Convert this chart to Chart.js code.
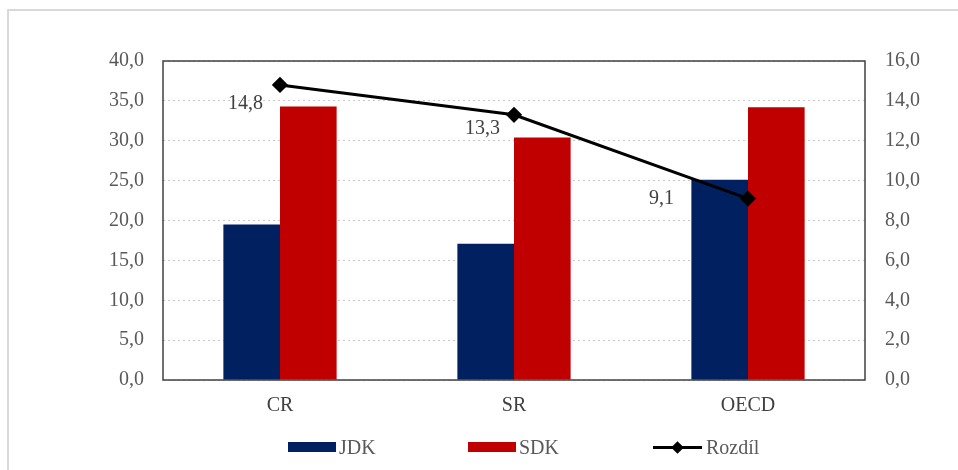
<!DOCTYPE html>
<html>
<head>
<meta charset="utf-8">
<script src="https://cdn.jsdelivr.net/npm/chart.js@4"></script>
<style>
  html, body { margin: 0; padding: 0; background: #fff; }
  #wrap { position: relative; width: 958px; height: 470px; overflow: hidden; }
  #frame { position: absolute; left: 7px; top: 9px; width: 1000px; height: 1000px; border: 2px solid #d9d9d9; box-sizing: border-box; }
  canvas { position: absolute; left: 0; top: 0; }
  #legend { position: absolute; top: 437px; left: 0; width: 958px; height: 20px; font-family: "Liberation Serif", serif; font-size: 20px; color: #595959; }
  .item { position: absolute; top: 0; height: 20px; line-height: 20px; }
  .box { position: absolute; top: 5px; width: 48px; height: 10px; }
  .txt { position: absolute; top: 0; white-space: nowrap; }
  .ln { position: absolute; top: 9px; width: 49px; height: 3px; background: #000; }
  .dm { position: absolute; top: 6px; width: 9px; height: 9px; background: #000; transform: rotate(45deg); }
</style>
</head>
<body>
<div id="wrap">
  <div id="frame"></div>
  <canvas id="c" width="958" height="470"></canvas>
  <div id="legend"></div>
</div>
<script>
const categories = ["CR", "SR", "OECD"];
const jdk = [19.5, 17.1, 25.1];
const sdk = [34.3, 30.4, 34.2];
const rozdil = [14.8, 13.3, 9.1];
const seriesNames = ["JDK", "SDK", "Rozdíl"];

const NAVY = "#002060", RED = "#C00000";
const FONT = "Liberation Serif";
const fmt = v => Number(v).toFixed(1).replace(".", ",");

const borderBox = {
  id: "borderBox",
  beforeDatasetsDraw(chart) {
    const a = chart.chartArea, ctx = chart.ctx;
    ctx.save();
    ctx.strokeStyle = "#404040";
    ctx.lineWidth = 1.5;
    ctx.strokeRect(a.left, a.top, a.right - a.left, a.bottom - a.top);
    ctx.restore();
  }
};

const lineLabels = {
  id: "lineLabels",
  afterDatasetsDraw(chart, args, opts) {
    const meta = chart.getDatasetMeta(2);
    const ctx = chart.ctx;
    ctx.save();
    ctx.font = '20px "' + FONT + '"';
    ctx.fillStyle = "#404040";
    ctx.textAlign = "right";
    ctx.textBaseline = "middle";
    meta.data.forEach((p, i) => {
      const o = opts.offsets[i];
      ctx.fillText(fmt(chart.data.datasets[2].data[i]), p.x + o[0], p.y + o[1]);
    });
    ctx.restore();
  }
};

const tickFont = { family: FONT, size: 20 };

const chart = new Chart(document.getElementById("c"), {
  data: {
    labels: categories,
    datasets: [
      { type: "bar", label: seriesNames[0], data: jdk, backgroundColor: NAVY, yAxisID: "y", order: 2,
        categoryPercentage: 0.484, barPercentage: 1.0 },
      { type: "bar", label: seriesNames[1], data: sdk, backgroundColor: RED, yAxisID: "y", order: 2,
        categoryPercentage: 0.484, barPercentage: 1.0 },
      { type: "line", label: seriesNames[2], data: rozdil, borderColor: "#000", backgroundColor: "#000",
        borderWidth: 3, pointStyle: "rectRot", pointRadius: 6, pointHoverRadius: 6, yAxisID: "y1", order: 1, tension: 0 }
    ]
  },
  options: {
    responsive: false,
    animation: false,
    devicePixelRatio: 1,
    layout: { padding: { top: 61, left: 0, right: 0, bottom: 0 } },
    plugins: {
      legend: { display: false },
      tooltip: { enabled: false },
      lineLabels: { offsets: [[-17, 19], [-14, 14], [-74, 0]] }
    },
    scales: {
      x: {
        grid: { display: false, drawTicks: false },
        border: { display: false },
        ticks: { color: "#404040", font: tickFont, padding: 14 },
        afterFit(s) { s.height = 90; }
      },
      y: {
        position: "left",
        min: 0, max: 40,
        grid: { color: "#c8c8c8", lineWidth: 1, drawTicks: false },
        border: { display: false, dash: [2, 3] },
        ticks: { stepSize: 5, color: "#595959", font: tickFont, padding: 19, callback: v => fmt(v) },
        afterFit(s) { s.width = 163; }
      },
      y1: {
        position: "right",
        min: 0, max: 16,
        grid: { display: false, drawTicks: false },
        border: { display: false },
        ticks: { stepSize: 2, color: "#595959", font: tickFont, padding: 20, callback: v => fmt(v) },
        afterFit(s) { s.width = 93; }
      }
    }
  },
  plugins: [borderBox, lineLabels]
});

// HTML legend
const lg = document.getElementById("legend");
const items = [
  { x: 288, kind: "box", color: NAVY, name: seriesNames[0] },
  { x: 468, kind: "box", color: RED, name: seriesNames[1] },
  { x: 653, kind: "line", color: "#000", name: seriesNames[2] }
];
items.forEach(it => {
  const d = document.createElement("div");
  d.className = "item";
  d.style.left = it.x + "px";
  if (it.kind === "box") {
    d.innerHTML = '<span class="box" style="left:0;background:' + it.color + '"></span><span class="txt" style="left:51px">' + it.name + '</span>';
  } else {
    d.innerHTML = '<span class="ln" style="left:0"></span><span class="dm" style="left:20px"></span><span class="txt" style="left:53px">' + it.name + '</span>';
  }
  lg.appendChild(d);
});
</script>
</body>
</html>
